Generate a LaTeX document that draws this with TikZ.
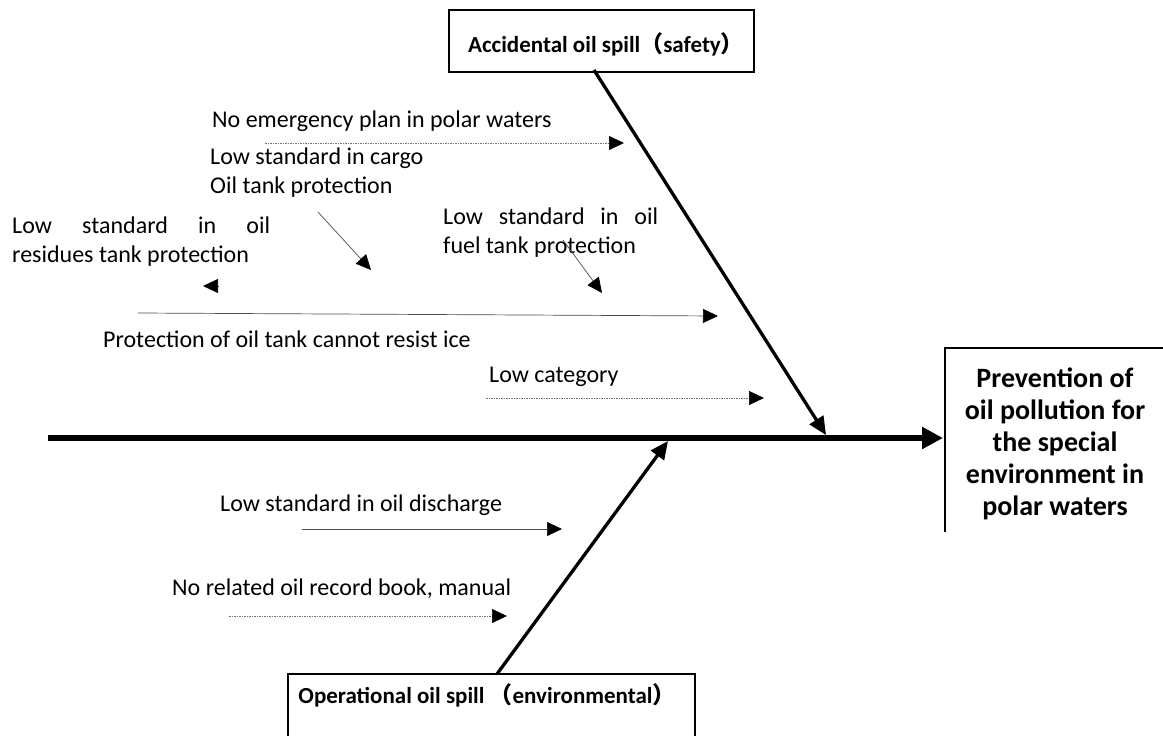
\documentclass[tikz,border=0pt]{standalone}
\usepackage{fontspec}
\setmainfont{Carlito}
\newfontfamily\cjk{Noto Sans CJK SC}
\usetikzlibrary{arrows.meta}
\begin{document}
\begin{tikzpicture}[x=1pt,y=-1pt,
  lbl/.style={anchor=base west,inner sep=0pt,font=\fontsize{24}{28.5}\selectfont,align=left},
  boxlbl/.style={anchor=base,inner sep=0pt,font=\bfseries\fontsize{23}{28}\selectfont},
  frame/.style={line width=1.2pt},
  thinarrow/.style={draw=black!70,line width=0.7pt,-{Triangle[length=15pt,width=14pt,color=black]}},
  dotarrow/.style={draw=black!55,line width=0.7pt,dash pattern=on 1.5pt off 1pt,-{Triangle[length=15pt,width=14pt,color=black]}},
  bone/.style={line width=3.3pt,-{Triangle[length=18pt,width=16pt]}},
  spine/.style={line width=6.5pt,-{Triangle[length=21pt,width=21pt]}}]
\useasboundingbox (0,0) rectangle (1163,736);
% boxes
\draw[frame] (449,10) rectangle (754,72);
\node[boxlbl] (topbox) at (606,52) {Accidental oil spill{\cjk （}safety{\cjk ）}};
\draw[frame] (288,674) rectangle (695,760);
\node[boxlbl] (botbox) at (487,703) {Operational oil spill {\cjk （}environmental{\cjk ）}};
\draw[frame] (945,532) -- (945,348) -- (1175,348);
\node[anchor=base,inner sep=0pt,align=center,font=\bfseries\fontsize{28}{32}\selectfont] (effect) at (1055,515) {Prevention of\\oil pollution for\\the special\\environment in\\polar waters};
% spine and bones
\coordinate (tail) at (48,438);
\coordinate (head) at (943,438);
\coordinate (topstart) at (594,70);
\coordinate (topend) at (826,435);
\coordinate (botstart) at (497,674);
\coordinate (botend) at (668,441);
\draw[spine] (tail) -- (head);
\draw[bone] (topstart) -- (topend);
\draw[bone] (botstart) -- (botend);
% labels (base = baseline of last line)
\node[lbl] (l1) at (212,127) {No emergency plan in polar waters};
\node[lbl] (l2) at (210,193) {Low standard in cargo\\Oil tank protection};
\node[lbl] (l3) at (12,262) {\makebox[258pt][s]{Low standard in oil}\\residues tank protection};
\node[lbl] (l4) at (443,253) {\makebox[215pt][s]{Low standard in oil}\\fuel tank protection};
\node[lbl] (l5) at (103,347) {Protection of oil tank cannot resist ice};
\node[lbl] (l6) at (489,382) {Low category};
\node[lbl] (l7) at (220,511) {Low standard in oil discharge};
\node[lbl] (l8) at (172,595) {No related oil record book, manual};
% small arrows
\coordinate (a1s) at (265,143); \coordinate (a1e) at (624,143);
\coordinate (a2s) at (318,212); \coordinate (a2e) at (371,270);
\coordinate (a3s) at (218,286); \coordinate (a3e) at (203,286);
\coordinate (a4s) at (563,240); \coordinate (a4e) at (602,293);
\coordinate (a5s) at (138,313); \coordinate (a5e) at (718,316);
\coordinate (a6s) at (486,398); \coordinate (a6e) at (764,398);
\coordinate (a7s) at (302,529); \coordinate (a7e) at (562,529);
\coordinate (a8s) at (229,616); \coordinate (a8e) at (507,616);
\draw[dotarrow] (a1s) -- (a1e);
\draw[thinarrow] (a2s) -- (a2e);
\draw[thinarrow] (a3s) -- (a3e);
\draw[thinarrow] (a4s) -- (a4e);
\draw[thinarrow] (a5s) -- (a5e);
\draw[dotarrow] (a6s) -- (a6e);
\draw[thinarrow] (a7s) -- (a7e);
\draw[dotarrow] (a8s) -- (a8e);
\end{tikzpicture}
\end{document}
